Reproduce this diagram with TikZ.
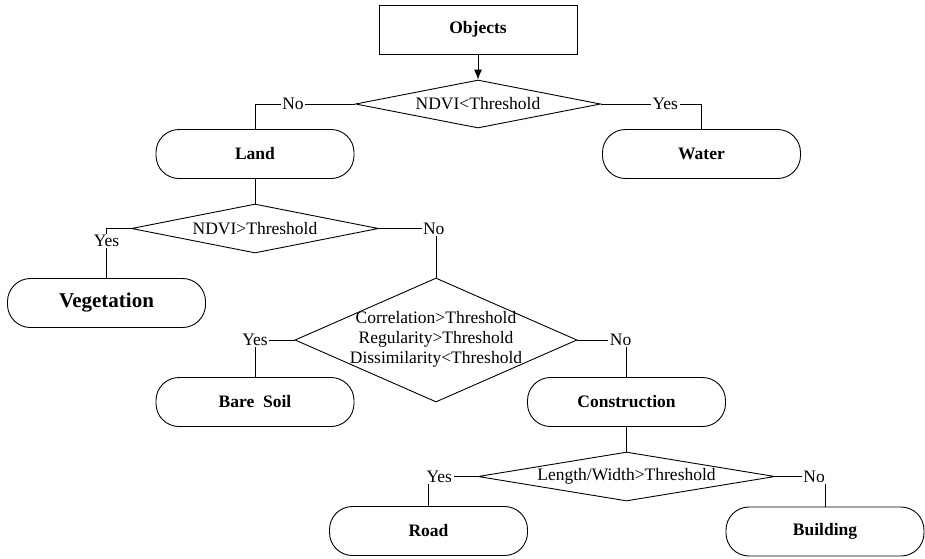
\documentclass[tikz,border=0pt]{standalone}
\usepackage{fontspec}
\setmainfont{Liberation Serif}
\usetikzlibrary{shapes.geometric,arrows.meta}
\begin{document}
\begin{tikzpicture}[x=1pt,y=-1pt,
  txt/.style={font=\fontsize{17.5}{20}\selectfont},
  box/.style={draw, line width=0.9pt, minimum width=198pt, minimum height=49pt,
    inner sep=0pt, font=\fontsize{17.5}{20}\selectfont\bfseries},
  pill/.style={box, rounded corners=23pt},
  decision/.style={draw, diamond, line width=0.9pt, inner sep=0pt},
  cond/.style={txt, align=center, inner sep=0pt},
  link/.style={line width=0.9pt},
  answer/.style={txt, fill=white, inner sep=1.5pt}
]
\useasboundingbox (0,0) rectangle (925,558);

% level 0: start box and water test
\node[box] (objects) at (478,29.5) {Objects};
\node[decision, minimum width=245pt, minimum height=48pt] (d1) at (478,104) {};
\node[cond] (d1t) at (d1) {NDVI<Threshold};
\node[pill] (land) at (255,154) {Land};
\node[pill] (water) at (701.5,154) {Water};

% level 1: vegetation test
\node[decision, minimum width=247pt, minimum height=49pt] (d2) at (255,228.5) {};
\node[cond] (d2t) at (d2) {NDVI>Threshold};
\node[pill, font=\fontsize{21}{24}\selectfont\bfseries] (veg) at (106.5,303) {Vegetation};

% level 2: texture test
\node[decision, minimum width=282pt, minimum height=124pt] (d3) at (436,340) {};
\node[cond] (d3t) at (436,339) {Correlation>Threshold\\Regularity>Threshold\\Dissimilarity<Threshold};
\node[pill] (soil) at (255,402) {Bare\ \ Soil};
\node[pill] (constr) at (626.5,402) {Construction};

% level 3: shape test
\node[decision, minimum width=297pt, minimum height=49pt] (d4) at (626.5,476.5) {};
\node[cond] (d4t) at (d4) {Length/Width>Threshold};
\node[pill] (road) at (428.5,531) {Road};
\node[pill] (bldg) at (825,531.5) {Building};

% connectors
\draw[link, -{Latex[length=10pt,width=8pt]}] (objects.south) -- (d1.north);
\draw[link] (d1.west) -| (land.north) node[answer, pos=0.31] {No};
\draw[link] (d1.east) -| (water.north) node[answer, pos=0.32] {Yes};

\draw[link] (land.south) -- (d2.north);
\draw[link] (d2.west) -| (veg.north) node[answer, pos=0.625] {Yes};
\draw[link] (d2.east) -| (d3.north) node[answer, pos=0.48] {No};

\draw[link] (d3.west) -| (soil.north) node[answer, pos=0.5] {Yes};
\draw[link] (d3.east) -| (constr.north) node[answer, pos=0.44] {No};

\draw[link] (constr.south) -- (d4.north);
\draw[link] (d4.west) -| (road.north) node[answer, pos=0.39] {Yes};
\draw[link] (d4.east) -| (bldg.north) node[answer, pos=0.39] {No};
\end{tikzpicture}
\end{document}
